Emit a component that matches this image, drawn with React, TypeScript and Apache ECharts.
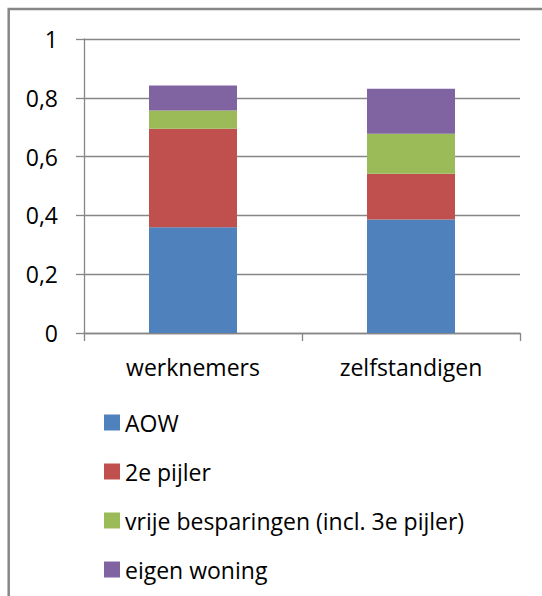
import React, { useEffect, useRef } from "react";
import * as echarts from "echarts";

const categories = ["werknemers", "zelfstandigen"];
const seriesNames = ["AOW", "2e pijler", "vrije besparingen (incl. 3e pijler)", "eigen woning"];
const aow = [0.36, 0.386];
const tweedePijler = [0.335, 0.156];
const vrijeBesparingen = [0.062, 0.136];
const eigenWoning = [0.085, 0.153];
const seriesColors = ["#4F81BD", "#C0504D", "#9BBB59", "#8064A2"];
const yTicks = { min: 0, max: 1, interval: 0.2 };

const FONT = "'Open Sans', sans-serif";

export default function App() {
  const ref = useRef<HTMLDivElement>(null);
  useEffect(() => {
    if (!ref.current) return;
    const chart = echarts.init(ref.current, undefined, { renderer: "svg" });
    const values = [aow, tweedePijler, vrijeBesparingen, eigenWoning];
    chart.setOption({
      animation: false,
      backgroundColor: "#ffffff",
      textStyle: { fontFamily: FONT },
      graphic: [
        {
          type: "rect",
          shape: { x: 8.7, y: 9, width: 700, height: 700 },
          style: { fill: "none", stroke: "#878787", lineWidth: 2.5 },
          silent: true,
        },
      ],
      grid: { left: 84, right: 22, top: 39, bottom: 263, containLabel: false },
      legend: {
        orient: "vertical",
        left: 99,
        top: 406,
        icon: "rect",
        itemWidth: 16,
        itemHeight: 16,
        itemGap: 26,
        data: seriesNames,
        textStyle: { fontFamily: FONT, fontSize: 23, color: "#000", lineHeight: 22 },
      },
      xAxis: {
        type: "category",
        data: categories,
        axisLine: { show: true, lineStyle: { color: "#868686", width: 1.3 } },
        axisTick: { show: true, length: 8, lineStyle: { color: "#868686", width: 1.3 } },
        axisLabel: { fontFamily: FONT, fontSize: 23, color: "#000", margin: 23, lineHeight: 22 },
      },
      yAxis: {
        type: "value",
        min: yTicks.min,
        max: yTicks.max,
        interval: yTicks.interval,
        axisLine: { show: true, lineStyle: { color: "#868686", width: 1.3 } },
        axisTick: { show: true, length: 8, lineStyle: { color: "#868686", width: 1.3 } },
        splitLine: { show: true, lineStyle: { color: "#868686", width: 1.3 } },
        axisLabel: {
          fontFamily: FONT,
          fontSize: 23,
          color: "#000",
          margin: 26,
          formatter: (v: number) => String(Math.round(v * 10) / 10).replace(".", ","),
        },
      },
      series: seriesNames.map((name, i) => ({
        name,
        type: "bar",
        stack: "total",
        barWidth: 88,
        data: values[i],
        itemStyle: { color: seriesColors[i] },
      })),
    });
    return () => chart.dispose();
  }, []);
  return (
    <div
      ref={ref}
      style={{ position: "absolute", left: 0, top: 0, width: 542, height: 596 }}
    />
  );
}
